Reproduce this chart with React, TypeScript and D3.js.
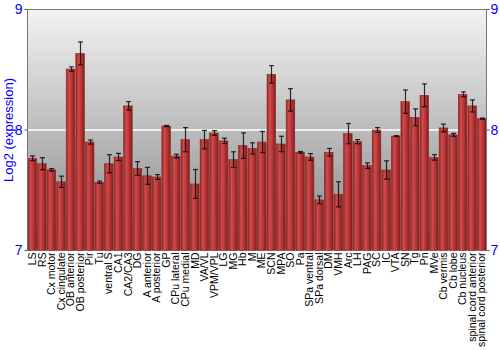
import React from "react";
import * as d3 from "d3";

const categories = ["LS","RS","Cx motor","Cx cingulate","OB anterior","OB posterior","Pir","Tu","ventral S","CA1","CA2/CA3","DG","A anterior","A posterior","GP","CPu lateral","CPu medial","MD","VA/VL","VPM/VPL","LG","MG","Hb","M","ME","SCN","MPA","SO","Pa","SPa ventral","SPa dorsal","DM","VMH","Arc","LH","PAG","SC","IC","VTA","SN","Tg","Pn","MVe","Cb vermis","Cb lobe","Cb nucleus","spinal cord anterior","spinal cord posterior"];
const values = [7.765,7.72,7.67,7.57,8.506,8.636,7.90,7.566,7.72,7.776,8.20,7.68,7.62,7.61,8.033,7.784,7.92,7.552,7.92,7.975,7.91,7.754,7.87,7.848,7.90,8.462,7.884,8.25,7.815,7.776,7.42,7.815,7.466,7.97,7.903,7.704,8.00,7.668,7.95,8.235,8.105,8.288,7.773,8.017,7.96,8.296,8.20,8.094];
const errors = [0.02,0.05,0.01,0.047,0.018,0.095,0.017,0.01,0.075,0.03,0.035,0.057,0.07,0.02,0.005,0.015,0.1,0.12,0.077,0.02,0.022,0.065,0.106,0.046,0.088,0.072,0.064,0.093,0.007,0.028,0.032,0.032,0.104,0.084,0.017,0.023,0.02,0.076,0.003,0.097,0.07,0.095,0.023,0.032,0.012,0.02,0.05,0.005];
const yTicks = [7, 8, 9];

const L = 27.5, R = 486.5, T = 9.5, B = 250.5;

export default function App() {
  const x = d3.scaleBand<string>().domain(categories).range([L, R]).paddingInner(0.1).paddingOuter(0.05);
  const y = d3.scaleLinear().domain([7, 9]).range([B, T]);
  const font = "'Liberation Sans', Arial, sans-serif";
  return (
    <svg width={500} height={350} style={{ position: "absolute", left: 0, top: 0 }} fontFamily={font}>
      <defs>
        <linearGradient id="bg" x1="0" y1="0" x2="0" y2="1">
          <stop offset="0" stopColor="#f3f3f3" />
          <stop offset="1" stopColor="#858585" />
        </linearGradient>
        <linearGradient id="bar" x1="0" y1="0" x2="1" y2="0">
          <stop offset="0" stopColor="#922222" />
          <stop offset="0.3" stopColor="#d04c4c" />
          <stop offset="0.6" stopColor="#bc3636" />
          <stop offset="1" stopColor="#821c1c" />
        </linearGradient>
      </defs>
      <rect x={L} y={T} width={R - L} height={B - T} fill="url(#bg)" />
      {yTicks.slice(1, 2).map((t) => (
        <line key={t} x1={L} x2={R} y1={y(t)} y2={y(t)} stroke="#ffffff" strokeWidth={1.5} />
      ))}
      {categories.map((c, i) => (
        <rect key={c} x={x(c)} y={y(values[i])} width={x.bandwidth()} height={B - y(values[i])} fill="url(#bar)" stroke="#8a2a2a" strokeWidth={0.6} />
      ))}
      {categories.map((c, i) => {
        const cx = Math.round((x(c) as number) + x.bandwidth() / 2) + 0.5;
        const y1 = y(values[i] + errors[i]);
        const y2 = y(values[i] - errors[i]);
        return (
          <g key={c} stroke="#000" strokeOpacity={0.8} strokeWidth={1.2}>
            <line x1={cx} x2={cx} y1={y1} y2={y2} />
            <line x1={cx - 2.5} x2={cx + 2.5} y1={y1} y2={y1} />
            <line x1={cx - 2.5} x2={cx + 2.5} y1={y2} y2={y2} />
          </g>
        );
      })}
      <line x1={L} x2={R} y1={T} y2={T} stroke="#777" />
      <line x1={L} x2={L} y1={T} y2={B} stroke="#777" />
      <line x1={R} x2={R} y1={T} y2={B} stroke="#777" />
      {yTicks.map((t) => (
        <g key={t}>
          <line x1={L - 3} x2={L} y1={y(t)} y2={y(t)} stroke="#555" />
          <text x={L - 5} y={y(t)} dy="0.35em" textAnchor="end" fill="#0000ff" fontSize={14}>{t}</text>
          <line x1={R} x2={R + 3} y1={y(t)} y2={y(t)} stroke="#555" />
          <text x={R + 4} y={y(t)} dy="0.35em" textAnchor="start" fill="#0000ff" fontSize={14}>{t}</text>
        </g>
      ))}
      <text transform={`translate(13,${(T + B) / 2}) rotate(-90)`} textAnchor="middle" fill="#0000ff" fontSize={13}>Log2 (expression)</text>
      {categories.map((c) => (
        <text key={c} transform={`translate(${(x(c) as number) + x.bandwidth() / 2},${B + 2}) rotate(-90)`} textAnchor="end" dy="0.35em" fill="#000" fontSize={10.5}>{c}</text>
      ))}
    </svg>
  );
}
